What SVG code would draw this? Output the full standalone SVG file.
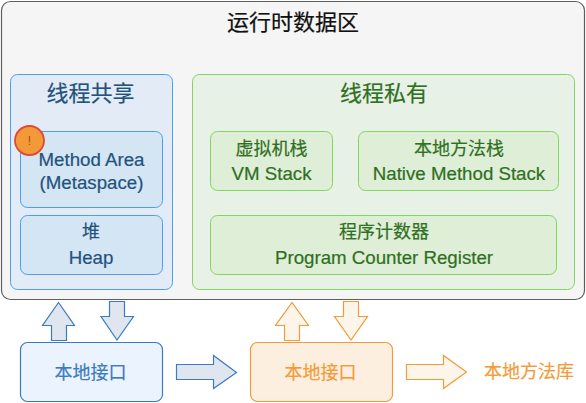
<svg xmlns="http://www.w3.org/2000/svg" width="586" height="403" viewBox="0 0 586 403">
<style>
text{font-family:"Liberation Sans","Noto Sans CJK SC",sans-serif;text-anchor:middle}
.b{fill:#23527c;stroke:#23527c;stroke-width:.2}.g{fill:#2f6f22;stroke:#2f6f22;stroke-width:.2}.o{fill:#f29b38;stroke:#f29b38;stroke-width:.2}
.t{font-size:22px}.s{font-size:18px}.l{font-size:18.7px}
.bo{fill:#e3ecf6;stroke:#4c9ff0}.bi{fill:#d4e5f4;stroke:#4c9ff0}
.go{fill:#e8f1e5;stroke:#80d75f}.gi{fill:#dfeed7;stroke:#80d75f}
.ba{fill:#dfe6f0;stroke:#3b7bbf;stroke-width:1.2}.oa{fill:#fef5ea;stroke:#f29b38;stroke-width:1.2}
</style>
<rect width="586" height="403" fill="#fff"/>
<g id="runtime"><rect x="1.5" y="1.5" width="583" height="298" rx="9" fill="#f5f5f5" stroke="#5f5f5f" stroke-width="1.2"/><text x="293" y="30" font-size="22" fill="#111" stroke="#111" stroke-width=".2">运行时数据区</text></g>
<g id="shared"><rect class="bo" x="10.500" y="74.500" width="162" height="215" rx="7"/><text class="b t" x="90.500" y="101">线程共享</text></g>
<g id="method-area"><rect class="bi" x="20.500" y="131.500" width="142" height="76" rx="7"/><text class="b l" x="91.500" y="166">Method Area</text><text class="b l" x="91.500" y="189">(Metaspace)</text></g>
<g id="warning"><circle cx="29.500" cy="140.500" r="14.500" fill="#f39a38" stroke="#e0493a" stroke-width="1.800"/><text x="29.500" y="145" font-size="12" fill="#b73a1e">!</text></g>
<g id="heap"><rect class="bi" x="20.500" y="215.500" width="142" height="59" rx="7"/><text class="b s" x="91" y="238">堆</text><text class="b l" x="91" y="264">Heap</text></g>
<g id="private"><rect class="go" x="192.500" y="74.500" width="382" height="215" rx="7"/><text class="g t" x="384" y="101">线程私有</text></g>
<g id="vm-stack"><rect class="gi" x="210.500" y="131.500" width="122" height="59" rx="7"/><text class="g s" x="271.500" y="155">虚拟机栈</text><text class="g l" x="271.500" y="180">VM Stack</text></g>
<g id="native-stack"><rect class="gi" x="358.500" y="131.500" width="200" height="59" rx="7"/><text class="g s" x="459" y="155">本地方法栈</text><text class="g l" x="459" y="180">Native Method Stack</text></g>
<g id="pc"><rect class="gi" x="210.500" y="215.500" width="346" height="59" rx="7"/><text class="g s" x="384" y="238">程序计数器</text><text class="g l" x="384" y="264">Program Counter Register</text></g>
<g id="connectors">
<path class="ba" d="M51.500 340.500V325.500H42.500L58.500 302.500L74.500 325.500H66.500V340.500Z"/>
<path class="ba" d="M109.500 301.500H124.500V316.500H133.500L117 340L101 316.500H109.500Z"/>
<path class="ba" d="M176.500 364.500H213.500V355.500L236.500 372.500L213.500 388.500V379.500H176.500Z"/>
<path class="oa" d="M284.500 340.500V325.500H275.500L292 302.500L308.500 325.500H299.500V340.500Z"/>
<path class="oa" d="M343.500 301.500H358.500V316.500H367.500L351 340L334.500 316.500H343.500Z"/>
<path class="oa" d="M406.500 364.500H443.500V355.500L466.500 372L443.500 388.500V379.500H406.500Z"/>
</g>
<g id="native-interface-blue"><rect x="20.500" y="342.500" width="142" height="59" rx="7" fill="#ebf4fe" stroke="#3b7bbf" stroke-width="1.200"/><text x="90.500" y="379" font-size="18" fill="#3b7bbf" stroke="#3b7bbf" stroke-width=".2">本地接口</text></g>
<g id="native-interface-orange"><rect x="250.500" y="342.500" width="142" height="59" rx="7" fill="#fdefe0" stroke="#f29b38" stroke-width="1.200"/><text class="o" x="320.500" y="379" font-size="18">本地接口</text></g>
<g id="native-lib"><text class="o" x="529" y="378" font-size="18">本地方法库</text></g>
</svg>
